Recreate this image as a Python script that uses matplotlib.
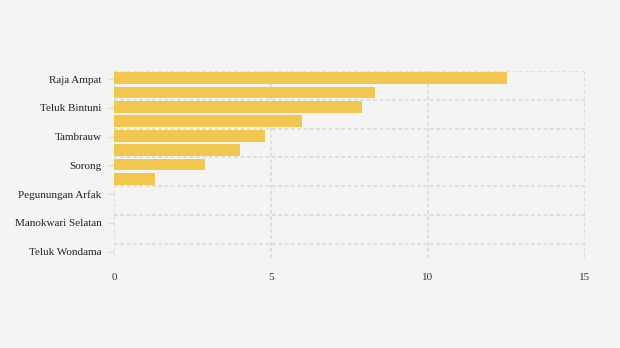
import numpy as np
import matplotlib
matplotlib.use("Agg")
import matplotlib.pyplot as plt

# kabupaten on the y axis, top to bottom
kabupaten = ["Raja Ampat", "Teluk Bintuni", "Tambrauw", "Sorong",
             "Pegunungan Arfak", "Manokwari Selatan", "Teluk Wondama"]
# bar values, top to bottom
nilai = [12.5, 8.3, 7.9, 6.0, 4.8, 4.0, 2.9, 1.3]
x_ticks = [0, 5, 10, 15]

bg = "#f4f4f4"
kuning = "#f1c750"
garis = "#dcdcdc"

plt.rcParams["font.family"] = ["Liberation Serif", "DejaVu Serif"]

fig = plt.figure(figsize=(6.2, 3.48), dpi=100, facecolor=bg)
ax = fig.add_axes([114 / 620, 1 - 258 / 348, (585 - 114) / 620, (258 - 71) / 348])
ax.set_facecolor(bg)

n_band = len(kabupaten)
ax.set_xlim(0, 15)
ax.set_ylim(n_band - 0.5, 0)

# dotted grid
for y in range(n_band):
    ax.plot([0, 15], [y, y], color=garis, lw=1.3, ls=(0, (2, 1.5)), zorder=1)
for x in x_ticks:
    ax.plot([x, x], [0, n_band - 0.5], color=garis, lw=1.3, ls=(0, (2, 1.5)), zorder=1)

# bars sit on half-band slots
pos = np.arange(len(nilai)) * 0.5 + 0.25
ax.barh(pos, nilai, height=0.41, color=kuning, zorder=2)

ax.set_xticks(x_ticks)
ax.set_xticklabels([str(v) for v in x_ticks])
ax.set_yticks(np.arange(n_band) + 0.28)
ax.set_yticklabels(kabupaten)
ax.tick_params(axis="x", length=0, pad=11, labelsize=8, labelcolor="#333333")
ax.tick_params(axis="y", length=4, width=1, color=garis, pad=5, labelsize=8,
               labelcolor="#222222")

for s in ax.spines.values():
    s.set_visible(False)

fig.savefig("out.png", dpi=100, facecolor=bg)
